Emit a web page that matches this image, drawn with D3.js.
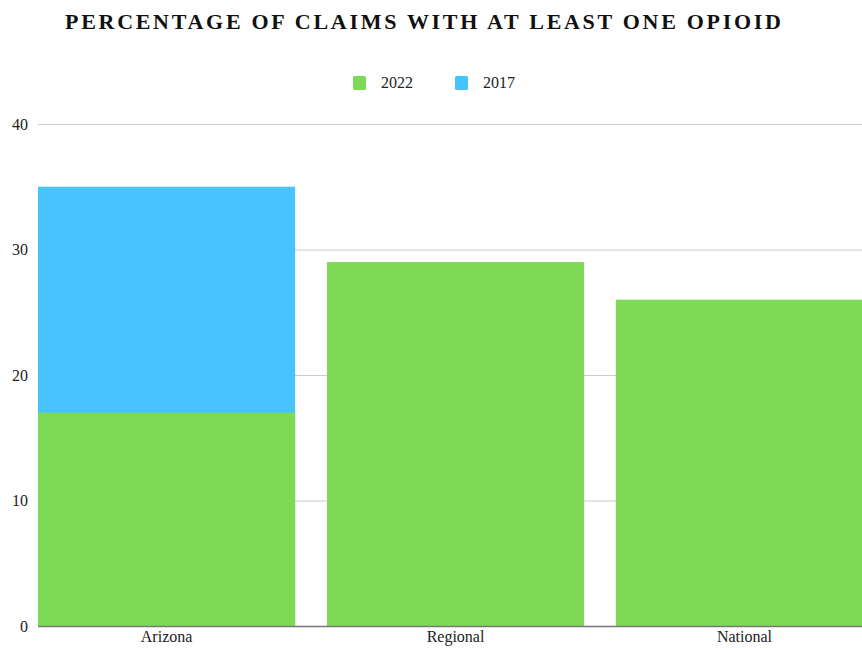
<!DOCTYPE html>
<html>
<head>
<meta charset="utf-8">
<script src="https://cdn.jsdelivr.net/npm/d3@7"></script>
<style>
  html, body { margin: 0; padding: 0; background: #fff; overflow: hidden; }
  svg { display: block; }
</style>
</head>
<body>
<svg id="chart" width="862" height="648"></svg>
<script>
// Share of claims with at least one opioid, by region
const categories = ["Arizona", "Regional", "National"];
const values2017 = [35, null, null];
const values2022 = [17, 29, 26];
const yTicks = [0, 10, 20, 30, 40];
const seriesNames = ["2022", "2017"];
const seriesColors = { "2022": "#7ed957", "2017": "#47c3ff" };

const SERIF = "'Liberation Serif', 'Times New Roman', Times, serif";

const svg = d3.select("#chart");
const W = 862, H = 648;
const plot = { left: 38, right: 873, top: 124, bottom: 626 };

const x = d3.scaleBand()
  .domain(categories)
  .range([plot.left, plot.right])
  .paddingInner(0.11)
  .paddingOuter(0);

const y = d3.scaleLinear()
  .domain([0, 40])
  .range([plot.bottom, plot.top]);

// Title
svg.append("text")
  .attr("x", 423)
  .attr("y", 29)
  .attr("text-anchor", "middle")
  .attr("textLength", 716)
  .attr("lengthAdjust", "spacing")
  .style("font-family", SERIF)
  .style("font-size", "22px")
  .style("font-weight", "bold")
  .style("fill", "#111")
  .text("PERCENTAGE OF CLAIMS WITH AT LEAST ONE OPIOID");

// Legend
const legendX = [353, 455];
seriesNames.forEach((name, i) => {
  const g = svg.append("g").attr("transform", `translate(${legendX[i]},76)`);
  g.append("rect")
    .attr("width", 13).attr("height", 14).attr("rx", 1.5)
    .attr("fill", seriesColors[name]);
  g.append("text")
    .attr("x", 28).attr("y", 12)
    .style("font-family", SERIF)
    .style("font-size", "16px")
    .style("fill", "#222")
    .text(name);
});

// Gridlines and y tick labels
const yAxis = d3.axisLeft(y)
  .tickValues(yTicks)
  .tickSize(-(W - plot.left))
  .tickFormat(d3.format("d"))
  .tickPadding(10);

const gy = svg.append("g")
  .attr("transform", `translate(${plot.left},0)`)
  .call(yAxis);
gy.select(".domain").remove();
gy.selectAll(".tick line").attr("stroke", "#cccccc").attr("stroke-width", 1);
gy.selectAll(".tick text")
  .style("font-family", SERIF)
  .style("font-size", "16px")
  .style("fill", "#222");

// Bars: 2017 behind, 2022 in front
const bars = svg.append("g");
bars.selectAll("rect.s2017")
  .data(categories.map((c, i) => ({ c, v: values2017[i] })).filter(d => d.v != null))
  .join("rect")
  .attr("class", "s2017")
  .attr("x", d => x(d.c))
  .attr("width", x.bandwidth())
  .attr("y", d => y(d.v))
  .attr("height", d => y(0) - y(d.v))
  .attr("fill", seriesColors["2017"]);

bars.selectAll("rect.s2022")
  .data(categories.map((c, i) => ({ c, v: values2022[i] })))
  .join("rect")
  .attr("class", "s2022")
  .attr("x", d => x(d.c))
  .attr("width", x.bandwidth())
  .attr("y", d => y(d.v))
  .attr("height", d => y(0) - y(d.v))
  .attr("fill", seriesColors["2022"]);

// Baseline and category labels
const xAxis = d3.axisBottom(x).tickSize(0).tickPadding(5);
const gx = svg.append("g")
  .attr("transform", `translate(0,${plot.bottom})`)
  .call(xAxis);
gx.select(".domain").remove();
gx.append("line")
  .attr("x1", plot.left).attr("x2", W)
  .attr("y1", 0.5).attr("y2", 0.5)
  .attr("stroke", "#777").attr("stroke-width", 1.5);
gx.selectAll(".tick text")
  .style("font-family", SERIF)
  .style("font-size", "16px")
  .style("fill", "#222");
</script>
</body>
</html>
